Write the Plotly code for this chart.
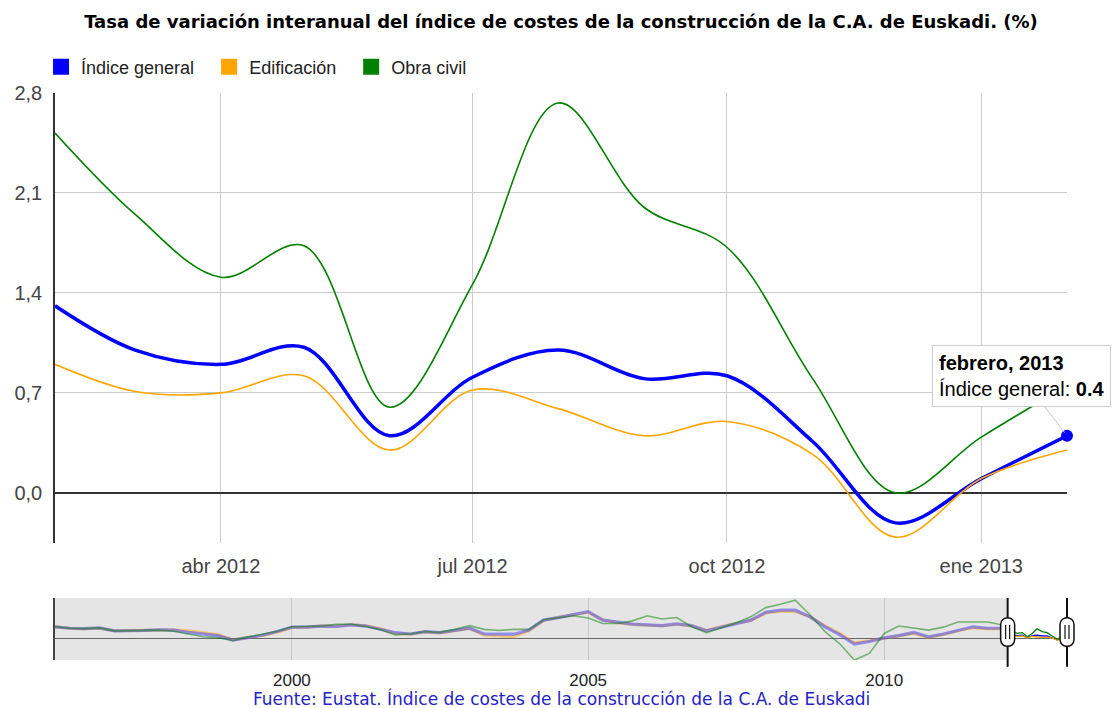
import plotly.graph_objects as go

# ---------------- data ----------------
months = ["2012-02-01", "2012-03-01", "2012-04-01", "2012-05-01", "2012-06-01", "2012-07-01",
          "2012-08-01", "2012-09-01", "2012-10-01", "2012-11-01", "2012-12-01", "2013-01-01",
          "2013-02-01"]
indice_general = [1.31, 1.00, 0.90, 1.02, 0.40, 0.81, 1.00, 0.80, 0.82, 0.36, -0.21, 0.10, 0.40]
edificacion = [0.90, 0.71, 0.70, 0.82, 0.30, 0.72, 0.59, 0.40, 0.50, 0.27, -0.31, 0.10, 0.30]
obra_civil = [2.52, 1.95, 1.51, 1.73, 0.60, 1.46, 2.73, 2.00, 1.72, 0.80, 0.00, 0.39, 0.75]

series_names = ["Índice general", "Edificación", "Obra civil"]
series_colors = ["#0000ff", "#ffa500", "#008000"]

# overview history (quarterly, read from the range selector)
hist_dates = ["1996-01-01", "1996-04-01", "1996-07-01", "1996-10-01",
              "1997-01-01", "1997-04-01", "1997-07-01", "1997-10-01",
              "1998-01-01", "1998-04-01", "1998-07-01", "1998-10-01",
              "1999-01-01", "1999-04-01", "1999-07-01", "1999-10-01",
              "2000-01-01", "2000-04-01", "2000-07-01", "2000-10-01",
              "2001-01-01", "2001-04-01", "2001-07-01", "2001-10-01",
              "2002-01-01", "2002-04-01", "2002-07-01", "2002-10-01",
              "2003-01-01", "2003-04-01", "2003-07-01", "2003-10-01",
              "2004-01-01", "2004-04-01", "2004-07-01", "2004-10-01",
              "2005-01-01", "2005-04-01", "2005-07-01", "2005-10-01",
              "2006-01-01", "2006-04-01", "2006-07-01", "2006-10-01",
              "2007-01-01", "2007-04-01", "2007-07-01", "2007-10-01",
              "2008-01-01", "2008-04-01", "2008-07-01", "2008-10-01",
              "2009-01-01", "2009-04-01", "2009-07-01", "2009-10-01",
              "2010-01-01", "2010-04-01", "2010-07-01", "2010-10-01",
              "2011-01-01", "2011-04-01", "2011-07-01", "2011-10-01",
              "2012-01-01"]
hist_general = [3.3, 2.9, 2.8, 3.0, 2.2, 2.2, 2.3, 2.5, 2.4, 1.8, 1.3, 0.9,
                -0.3, 0.45, 1.0, 2.0, 3.2, 3.2, 3.5, 3.4, 3.8, 3.5, 2.6, 1.7,
                1.35, 2.0, 1.7, 2.4, 2.9, 1.35, 1.3, 1.3, 2.4, 5.1, 5.8, 6.5,
                7.4, 5.1, 4.5, 4.0, 3.8, 3.6, 4.1, 3.6, 2.2, 3.2, 4.2, 5.1,
                7.2, 7.8, 7.8, 6.0, 3.3, 1.2, -1.4, -0.7, 0.3, 0.9, 1.8, 0.6,
                1.35, 2.4, 3.3, 2.9, 2.9]
hist_edificacion = [3.3, 2.9, 2.8, 2.9, 2.2, 2.3, 2.4, 2.5, 2.5, 2.2, 1.6, 1.2,
                    -0.2, 0.4, 0.9, 1.8, 3.1, 3.2, 3.6, 3.5, 3.9, 3.6, 2.8, 1.5,
                    1.3, 1.9, 1.6, 2.2, 2.8, 1.0, 0.8, 0.6, 2.2, 5.0, 5.9, 6.6,
                    7.2, 5.2, 4.4, 3.9, 3.7, 3.5, 4.0, 3.5, 2.4, 3.3, 4.3, 5.0,
                    7.0, 7.5, 7.4, 6.0, 3.5, 1.5, -1.0, -0.5, 0.2, 0.7, 1.5, 0.4,
                    1.2, 2.2, 3.0, 2.7, 2.7]
hist_obra_civil = [3.3, 2.9, 2.8, 3.0, 2.2, 2.2, 2.3, 2.4, 2.1, 1.3, 0.6, 0.35,
                   -0.4, 0.5, 1.3, 2.1, 3.3, 3.3, 3.5, 4.0, 4.0, 3.4, 2.5, 1.1,
                   1.4, 2.0, 1.8, 2.6, 3.6, 2.6, 2.3, 2.6, 2.6, 5.2, 5.7, 6.3,
                   5.7, 4.2, 4.2, 4.9, 6.3, 5.4, 5.8, 3.3, 1.7, 3.0, 4.3, 6.0,
                   8.5, 9.4, 10.5, 6.5, 2.0, -1.3, -5.7, -3.9, 1.5, 3.5, 2.9, 2.4,
                   3.2, 4.6, 4.6, 4.6, 3.8]

y_ticks = [0.0, 0.7, 1.4, 2.1, 2.8]
x_tickvals = ["2012-04-01", "2012-07-01", "2012-10-01", "2013-01-01"]
x_ticktext = ["abr 2012", "jul 2012", "oct 2012", "ene 2013"]
ov_tickvals = ["2000-01-01", "2005-01-01", "2010-01-01"]
ov_ticktext = ["2000", "2005", "2010"]

title_text = "Tasa de variación interanual del índice de costes de la construcción de la C.A. de Euskadi. (%)"
source_text = "Fuente: Eustat. Índice de costes de la construcción de la C.A. de Euskadi"
tooltip_title = "febrero, 2013"

# ---------------- figure ----------------
W, H = 1112, 708
ml, mr, mt, mb = 55, 45, 93, 48
plot_h = H - mt - mb
main_bottom_px = 543
ov_top_px = 598
main_dom0 = (H - mb - main_bottom_px) / plot_h
ov_dom1 = (H - mb - ov_top_px) / plot_h

SANS = "Liberation Sans, Arial, sans-serif"
DEJA = "DejaVu Sans, Verdana, sans-serif"
NB = "\u00a0"
legend_pad = [NB * 2, NB * 2, ""]

fig = go.Figure()

main_series = [indice_general, edificacion, obra_civil]
widths = [3.5, 1.6, 1.6]
for name, vals, col, w in zip(series_names, main_series, series_colors, widths):
    fig.add_trace(go.Scatter(x=months, y=vals, mode="lines", name=name,
                             line=dict(color=col, width=w, shape="spline", smoothing=1.0),
                             showlegend=False, xaxis="x", yaxis="y", hoverinfo="skip"))

# legend entries (square swatches)
for name, col, pad in zip(series_names, series_colors, legend_pad):
    fig.add_trace(go.Scatter(x=[None], y=[None], mode="markers", name=name + pad,
                             marker=dict(symbol="square", size=16, color=col, line=dict(width=0)),
                             showlegend=True, xaxis="x", yaxis="y"))

# highlighted last point
fig.add_trace(go.Scatter(x=[months[-1]], y=[indice_general[-1]], mode="markers",
                         marker=dict(color="#0000ff", size=12), showlegend=False,
                         cliponaxis=False, xaxis="x", yaxis="y", hoverinfo="skip"))

# overview: history (orange, blue, green drawing order)
hist_series = [hist_edificacion, hist_general, hist_obra_civil]
hist_colors = ["rgba(255,165,0,0.45)", "rgba(60,60,255,0.5)", "rgba(0,128,0,0.5)"]
hist_widths = [3.0, 3.2, 1.6]
for vals, col, w in zip(hist_series, hist_colors, hist_widths):
    fig.add_trace(go.Scatter(x=hist_dates, y=vals, mode="lines",
                             line=dict(color=col, width=w), showlegend=False,
                             xaxis="x2", yaxis="y2", hoverinfo="skip"))
# overview: selected window
for vals, col in zip(main_series, series_colors):
    fig.add_trace(go.Scatter(x=months, y=vals, mode="lines",
                             line=dict(color=col, width=1.3), showlegend=False,
                             xaxis="x2", yaxis="y2", hoverinfo="skip"))

shapes = [
    dict(type="rect", xref="x2", yref="y2 domain", x0=hist_dates[0], x1=months[0],
         y0=0, y1=1, fillcolor="#e5e5e5", line=dict(width=0), layer="below"),
]
handle_yfrac = 0.45
capsule = "M -7,-7.5 L -7,7.5 C -7,16.5 7,16.5 7,7.5 L 7,-7.5 C 7,-16.5 -7,-16.5 -7,-7.5 Z"
grip = "M -2,-7 L -2,7 M 2,-7 L 2,7"
handle_refs = [("x2", months[0]), ("x2 domain", 1.0)]
for xr, xa in handle_refs:
    shapes.append(dict(type="line", xref=xr, yref="y2 domain", x0=xa, x1=xa, y0=-0.11, y1=1.0,
                       line=dict(color="#111111", width=2)))
    shapes.append(dict(type="path", xref=xr, yref="y2 domain", xsizemode="pixel", ysizemode="pixel",
                       xanchor=xa, yanchor=handle_yfrac, path=capsule,
                       fillcolor="white", line=dict(color="#111111", width=1.5)))
    shapes.append(dict(type="path", xref=xr, yref="y2 domain", xsizemode="pixel", ysizemode="pixel",
                       xanchor=xa, yanchor=handle_yfrac, path=grip,
                       line=dict(color="#111111", width=1.2)))

annotations = [
    dict(text=source_text, xref="paper", yref="paper", x=0.5, y=(H - mb - 698) / plot_h,
         xanchor="center", yanchor="middle", showarrow=False,
         font=dict(family=DEJA, size=17, color="#2323c8")),
    dict(text="<b>" + tooltip_title + "</b><br>" + series_names[0] + ": <b>" + str(indice_general[-1]) + "</b>",
         xref="x", yref="y", x=months[-1], y=indice_general[-1],
         ax=-46, ay=-60, showarrow=True, arrowhead=0, arrowwidth=1, arrowcolor="#c8c8c8",
         standoff=4, align="left", bgcolor="white", bordercolor="#cccccc", borderwidth=1,
         borderpad=6, font=dict(family=SANS, size=20, color="#000000")),
]

fig.update_layout(
    width=W, height=H,
    margin=dict(l=ml, r=mr, t=mt, b=mb, autoexpand=False),
    paper_bgcolor="white", plot_bgcolor="white",
    separators=",.",
    title=dict(text="<b>" + title_text + "</b>", x=0.5, xref="paper", y=1 - 22 / H, yref="container",
               xanchor="center", yanchor="middle", automargin=False,
               font=dict(family=DEJA, size=18, color="#000000")),
    showlegend=True,
    legend=dict(orientation="h", x=-0.0138, xanchor="left", y=1 + (93 - 67) / plot_h,
                yanchor="middle", font=dict(family=SANS, size=18, color="#222222"),
                bgcolor="rgba(0,0,0,0)", itemclick=False),
    xaxis=dict(domain=[0, 1], anchor="y", type="date", range=[months[0], months[-1]],
               tickvals=x_tickvals, ticktext=x_ticktext, showgrid=True, gridcolor="#cccccc",
               gridwidth=1, showline=False, zeroline=False, ticks="", automargin=False,
               ticklabelstandoff=9, tickfont=dict(family=SANS, size=20, color="#444444")),
    yaxis=dict(domain=[main_dom0, 1], anchor="x", range=[-0.351, 2.8], tickvals=y_ticks,
               tickformat=".1f", showgrid=True, gridcolor="#cccccc", gridwidth=1,
               zeroline=True, zerolinecolor="#333333", zerolinewidth=1.5, automargin=False,
               showline=True, linecolor="#333333", linewidth=1.5, ticks="",
               ticklabelstandoff=7, tickfont=dict(family=SANS, size=20, color="#444444")),
    xaxis2=dict(domain=[0, 1], anchor="y2", type="date", range=[hist_dates[0], months[-1]],
                tickvals=ov_tickvals, ticktext=ov_ticktext, showgrid=True, gridcolor="#c8c8c8",
                showline=False, zeroline=False, ticks="", ticklabelstandoff=8, automargin=False,
                tickfont=dict(family=SANS, size=17, color="#222222")),
    yaxis2=dict(domain=[0, ov_dom1], anchor="x2", range=[-5.7, 11.1], showgrid=False,
                showticklabels=False, ticks="", zeroline=True, zerolinecolor="#666666",
                zerolinewidth=1.2, showline=True, linecolor="#444444", linewidth=1.5,
                automargin=False),
    shapes=shapes,
    annotations=annotations,
    hovermode=False,
)

fig.write_html("out.html", config={"displayModeBar": False},
               post_script="document.body.style.margin='0px';document.body.style.overflow='hidden';")
